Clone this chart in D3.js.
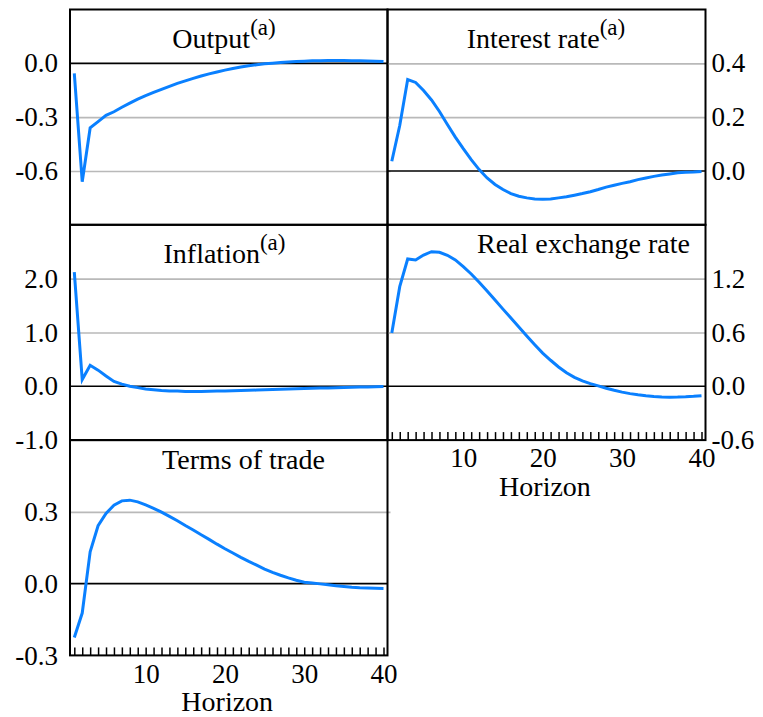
<!DOCTYPE html>
<html>
<head>
<meta charset="utf-8">
<script src="https://cdn.jsdelivr.net/npm/d3@7"></script>
<style>
  html, body { margin: 0; padding: 0; background: #fff; }
  svg { display: block; }
  text { font-family: "Liberation Serif", "Times New Roman", serif; fill: #000; }
</style>
</head>
<body>
<svg id="chart" width="763" height="717"></svg>
<script>
// Impulse responses over a 40-quarter horizon
const horizon = d3.range(1, 41);

const output = [
  -0.056, -0.66, -0.36, -0.325, -0.29, -0.27, -0.245, -0.222, -0.2, -0.18,
  -0.162, -0.145, -0.128, -0.112, -0.098, -0.084, -0.071, -0.059, -0.048, -0.038,
  -0.029, -0.021, -0.014, -0.008, -0.003, 0.001, 0.005, 0.008, 0.010, 0.012,
  0.014, 0.015, 0.016, 0.016, 0.016, 0.015, 0.014, 0.013, 0.012, 0.010
];

const interestRate = [
  0.036, 0.169, 0.34, 0.329, 0.299, 0.264, 0.221, 0.173, 0.126, 0.083,
  0.042, 0.005, -0.026, -0.05, -0.069, -0.084, -0.094, -0.1, -0.104, -0.105,
  -0.104, -0.1, -0.096, -0.09, -0.084, -0.077, -0.069, -0.06, -0.053, -0.046,
  -0.04, -0.032, -0.026, -0.02, -0.015, -0.011, -0.007, -0.005, -0.004, -0.002
];

const inflation = [
  2.12, 0.124, 0.39, 0.30, 0.19, 0.09, 0.04, 0.0, -0.025, -0.05,
  -0.065, -0.078, -0.086, -0.09, -0.095, -0.096, -0.095, -0.093, -0.09, -0.087,
  -0.083, -0.079, -0.075, -0.07, -0.066, -0.061, -0.056, -0.052, -0.047, -0.043,
  -0.038, -0.034, -0.030, -0.026, -0.022, -0.018, -0.015, -0.012, -0.009, -0.006
];

const realExchangeRate = [
  0.593, 1.11, 1.419, 1.408, 1.463, 1.5, 1.493, 1.46, 1.408, 1.333,
  1.252, 1.16, 1.063, 0.963, 0.86, 0.76, 0.66, 0.56, 0.463, 0.37,
  0.29, 0.215, 0.15, 0.1, 0.06, 0.03, 0.005, -0.022, -0.045, -0.065,
  -0.082, -0.095, -0.106, -0.114, -0.119, -0.121, -0.12, -0.117, -0.112, -0.105
];

const termsOfTrade = [
  -0.225, -0.123, 0.133, 0.242, 0.293, 0.328, 0.346, 0.349, 0.342, 0.329,
  0.315, 0.299, 0.281, 0.263, 0.243, 0.224, 0.204, 0.185, 0.165, 0.146,
  0.128, 0.11, 0.093, 0.077, 0.061, 0.047, 0.035, 0.024, 0.014, 0.006,
  0.003, -0.001, -0.005, -0.009, -0.012, -0.015, -0.017, -0.018, -0.019, -0.02
];

// Axis settings per panel
const outputTicks = [0.0, -0.3, -0.6];
const outputGrid = [-0.3, -0.6];
const interestTicks = [0.4, 0.2, 0.0];
const interestGrid = [0.4, 0.2];
const inflationTicks = [2.0, 1.0, 0.0, -1.0];
const inflationGrid = [2.0, 1.0];
const rerTicks = [1.2, 0.6, 0.0, -0.6];
const rerGrid = [1.2, 0.6];
const totTicks = [0.3, 0.0, -0.3];
const totGrid = [0.3];
const horizonLabels = [10, 20, 30, 40];

const panels = [
  { title: "Output", sup: "(a)", values: output, domain: [-0.9, 0.3], ticks: outputTicks, grid: outputGrid,
    side: "left", col: 0, row: 0, tx: 224, ty: 38.5, anchor: "middle", xAxis: false },
  { title: "Interest rate", sup: "(a)", values: interestRate, domain: [-0.2, 0.6], ticks: interestTicks, grid: interestGrid,
    side: "right", col: 1, row: 0, tx: 546, ty: 38.5, anchor: "middle", xAxis: false },
  { title: "Inflation", sup: "(a)", values: inflation, domain: [-1, 3], ticks: inflationTicks, grid: inflationGrid,
    side: "left", col: 0, row: 1, tx: 224.5, ty: 38, anchor: "middle", xAxis: false },
  { title: "Real exchange rate", sup: null, values: realExchangeRate, domain: [-0.6, 1.8], ticks: rerTicks, grid: rerGrid,
    side: "right", col: 1, row: 1, tx: 690, ty: 28.5, anchor: "end", xAxis: true },
  { title: "Terms of trade", sup: null, values: termsOfTrade, domain: [-0.3, 0.6], ticks: totTicks, grid: totGrid,
    side: "left", col: 0, row: 2, tx: 243.5, ty: 29, anchor: "middle", xAxis: true }
];

const svg = d3.select("#chart");
svg.append("rect").attr("width", 763).attr("height", 717).attr("fill", "#fff");

const colX = [[70, 387.5], [387.5, 705.5]];
const top0 = 9.5, rowH = 215.3;
const lineColor = "#0a80ff";
const fmt = v => v.toFixed(1);

panels.forEach(p => {
  const [x0, x1] = colX[p.col];
  const y0 = top0 + p.row * rowH, y1 = y0 + rowH;

  const x = d3.scaleLinear().domain([1, 40]).range([x0 + 4.3, x1 - 4]);
  const y = d3.scaleLinear().domain(p.domain).range([y1, y0]);

  const g = svg.append("g");

  // gridlines
  const gridAxis = d3.axisLeft(y).tickValues(p.grid).tickFormat("")
    .tickSize(-(x1 - x0 + (p.side === "left" ? 3 : 0)));
  g.append("g").attr("transform", `translate(${x0},0)`).call(gridAxis)
    .call(s => s.select(".domain").remove())
    .call(s => s.selectAll(".tick line").attr("stroke", "#b9b9b9").attr("stroke-width", 1.6));

  // zero line
  g.append("line")
    .attr("x1", x0).attr("x2", x1)
    .attr("y1", y(0)).attr("y2", y(0))
    .attr("stroke", "#000").attr("stroke-width", 1.6);

  // value labels
  const labelAxis = (p.side === "left" ? d3.axisLeft(y) : d3.axisRight(y))
    .tickValues(p.ticks).tickFormat(fmt).tickSize(0).tickPadding(p.side === "left" ? 12 : 6);
  g.append("g").attr("transform", `translate(${p.side === "left" ? x0 : x1},0)`).call(labelAxis)
    .call(s => s.select(".domain").remove())
    .call(s => s.selectAll("text")
      .attr("font-family", "Liberation Serif, Times New Roman, serif")
      .attr("font-size", 27).attr("fill", "#000"));

  // horizon axis
  if (p.xAxis) {
    const xAxis = d3.axisBottom(x).tickValues(horizon)
      .tickFormat(h => horizonLabels.includes(h) ? h : "")
      .tickSize(-8).tickPadding(8);
    g.append("g").attr("transform", `translate(0,${y1})`).call(xAxis)
      .call(s => s.select(".domain").remove())
      .call(s => s.selectAll(".tick line").attr("stroke", "#000").attr("stroke-width", 1.5))
      .call(s => s.selectAll("text")
        .attr("font-family", "Liberation Serif, Times New Roman, serif")
        .attr("font-size", 27).attr("fill", "#000"));
    g.append("text")
      .attr("x", (x0 + x1) / 2 - 1.5).attr("y", y1 + 56)
      .attr("text-anchor", "middle").attr("font-size", 28)
      .text("Horizon");
  }

  // response line
  g.append("path")
    .datum(p.values)
    .attr("fill", "none")
    .attr("stroke", lineColor)
    .attr("stroke-width", 3)
    .attr("d", d3.line().x((d, i) => x(horizon[i])).y(d => y(d)));

  // frame
  g.append("rect")
    .attr("x", x0).attr("y", y0).attr("width", x1 - x0).attr("height", y1 - y0)
    .attr("fill", "none").attr("stroke", "#000").attr("stroke-width", 2);

  // panel title
  const t = g.append("text")
    .attr("x", p.tx).attr("y", y0 + p.ty)
    .attr("text-anchor", p.anchor).attr("font-size", 28);
  t.append("tspan").text(p.title);
  if (p.sup) {
    t.append("tspan").attr("font-size", 23).attr("dy", -13).text(p.sup);
  }
});
</script>
</body>
</html>
